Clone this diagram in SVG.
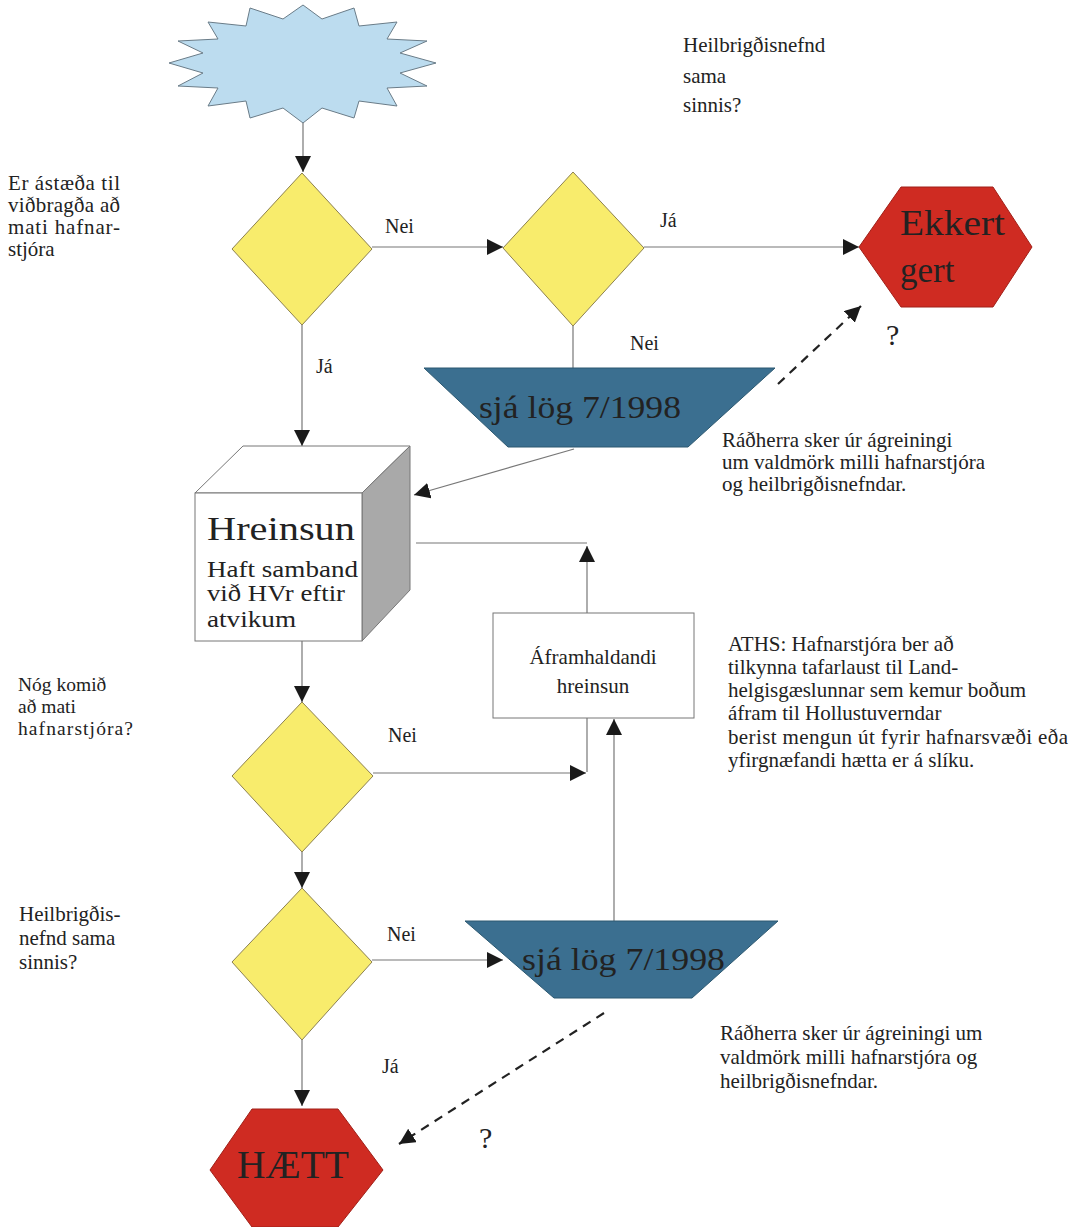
<svg xmlns="http://www.w3.org/2000/svg" width="1083" height="1227" viewBox="0 0 1083 1227">
<style>
text{font-family:"Liberation Serif","Times New Roman",serif;fill:#222}
.t{font-size:21px}
.lbl{font-size:20px}
.dia{fill:#f8ec6c;stroke:#8c8050;stroke-width:1}
.hex{fill:#cf2b22;stroke:#a02018;stroke-width:1}
.trap{fill:#3b6f90;stroke:#2c5870;stroke-width:1}
.con{fill:none;stroke:#777;stroke-width:1.2}
.dash{fill:none;stroke:#222;stroke-width:2.2;stroke-dasharray:9 7}
</style>
<defs>
<marker id="ah" markerUnits="userSpaceOnUse" markerWidth="18" markerHeight="18" refX="16" refY="8" orient="auto">
<path d="M0,0 L16,8 L0,16 z" fill="#1a1a1a"/>
</marker>
</defs>
<rect width="1083" height="1227" fill="#fff"/>

<g id="connectors">
<line class="con" x1="303" y1="123" x2="303" y2="172" marker-end="url(#ah)"/>
<line class="con" x1="372" y1="247" x2="503" y2="247" marker-end="url(#ah)"/>
<line class="con" x1="644" y1="247" x2="859" y2="247" marker-end="url(#ah)"/>
<line class="con" x1="573" y1="326" x2="573" y2="368"/>
<path class="dash" d="M778,384 L861,306" marker-end="url(#ah)"/>
<line class="con" x1="574" y1="449" x2="414" y2="495" marker-end="url(#ah)"/>
<line class="con" x1="302" y1="325" x2="302" y2="446" marker-end="url(#ah)"/>
<line class="con" x1="416" y1="543" x2="587" y2="543"/>
<line class="con" x1="587" y1="613" x2="587" y2="546" marker-end="url(#ah)"/>
<line class="con" x1="302" y1="641" x2="302" y2="702" marker-end="url(#ah)"/>
<line class="con" x1="373" y1="773" x2="586" y2="773" marker-end="url(#ah)"/>
<line class="con" x1="587" y1="718" x2="587" y2="772"/>
<line class="con" x1="614" y1="921" x2="614" y2="719" marker-end="url(#ah)"/>
<line class="con" x1="302" y1="852" x2="302" y2="888" marker-end="url(#ah)"/>
<line class="con" x1="372" y1="960" x2="503" y2="960" marker-end="url(#ah)"/>
<line class="con" x1="302" y1="1040" x2="302" y2="1106" marker-end="url(#ah)"/>
<path class="dash" d="M604,1013 L399,1144" marker-end="url(#ah)"/>
</g>

<g id="start">
<polygon points="303,5 322,19 354,8 359,26 397,22 387,39 427,41 400,53 436,63 400,73 427,86 387,88 397,106 359,101 354,118 322,108 303,123 283,108 250,118 246,101 208,106 218,88 178,86 203,73 169,63 203,53 178,41 218,39 208,22 246,26 250,8 283,19" fill="#bcdcef" stroke="#6a7c88" stroke-width="1"/>
</g>

<g id="q1-text">
<text class="t" x="8" y="190" textLength="112">Er ástæða til</text>
<text class="t" x="8" y="212" textLength="112">viðbragða að</text>
<text class="t" x="8" y="234" textLength="112">mati hafnar-</text>
<text class="t" x="8" y="256">stjóra</text>
</g>

<g id="d1"><polygon class="dia" points="302,173 372,249 302,325 232,249"/></g>
<g id="d2"><polygon class="dia" points="573,172 644,248 573,326 503,248"/></g>

<g id="q2-text">
<text class="t" x="683" y="52">Heilbrigðisnefnd</text>
<text class="t" x="683" y="83">sama</text>
<text class="t" x="683" y="112">sinnis?</text>
</g>

<g id="ekkert">
<polygon class="hex" points="901,187 993,187 1032,247 993,307 901,307 859,247"/>
<text x="900" y="235" font-size="35" textLength="105" lengthAdjust="spacingAndGlyphs">Ekkert</text>
<text x="900" y="282" font-size="35">gert</text>
</g>
<text x="886" y="345" font-size="30">?</text>

<g id="labels">
<text class="lbl" x="385" y="233">Nei</text>
<text class="lbl" x="660" y="227">Já</text>
<text class="lbl" x="630" y="350">Nei</text>
<text class="lbl" x="316" y="373">Já</text>
<text class="lbl" x="388" y="742">Nei</text>
<text class="lbl" x="387" y="941">Nei</text>
<text class="lbl" x="382" y="1073">Já</text>
</g>

<g id="law1">
<polygon class="trap" points="424,368 775,368 688,447 508,447"/>
<text x="479" y="418" font-size="31" textLength="202" lengthAdjust="spacingAndGlyphs">sjá lög 7/1998</text>
</g>

<g id="note1">
<text class="t" x="722" y="447">Ráðherra sker úr ágreiningi</text>
<text class="t" x="722" y="469">um valdmörk milli hafnarstjóra</text>
<text class="t" x="722" y="491">og heilbrigðisnefndar.</text>
</g>

<g id="cube">
<polygon points="195,493 243,446 410,446 362,493" fill="#fff" stroke="#777" stroke-width="1"/>
<polygon points="362,493 410,446 410,590 362,641" fill="#a9a9a9" stroke="#777" stroke-width="1"/>
<rect x="195" y="493" width="167" height="148" fill="#fff" stroke="#777" stroke-width="1"/>
<text x="207" y="540" font-size="33" textLength="148" lengthAdjust="spacingAndGlyphs">Hreinsun</text>
<text x="207" y="577" font-size="24" textLength="151" lengthAdjust="spacingAndGlyphs">Haft samband</text>
<text x="207" y="601" font-size="24" textLength="138" lengthAdjust="spacingAndGlyphs">við HVr eftir</text>
<text x="207" y="627" font-size="24" textLength="89" lengthAdjust="spacingAndGlyphs">atvikum</text>
</g>

<g id="continue">
<rect x="493" y="613" width="201" height="105" fill="#fff" stroke="#777" stroke-width="1"/>
<text class="t" x="593" y="664" text-anchor="middle">Áframhaldandi</text>
<text class="t" x="593" y="693" text-anchor="middle">hreinsun</text>
</g>

<g id="aths">
<text class="t" x="728" y="651">ATHS: Hafnarstjóra ber að</text>
<text class="t" x="728" y="674">tilkynna tafarlaust til Land-</text>
<text class="t" x="728" y="697">helgisgæslunnar sem kemur boðum</text>
<text class="t" x="728" y="720">áfram til Hollustuverndar</text>
<text class="t" x="728" y="744" textLength="340">berist mengun út fyrir hafnarsvæði eða</text>
<text class="t" x="728" y="767">yfirgnæfandi hætta er á slíku.</text>
</g>

<g id="q3-text">
<text x="18" y="691" font-size="19.5">Nóg komið</text>
<text x="18" y="713" font-size="19.5">að mati</text>
<text x="18" y="735" font-size="19.5" textLength="115">hafnarstjóra?</text>
</g>
<g id="d3"><polygon class="dia" points="302,702 373,776 302,852 232,776"/></g>

<g id="q4-text">
<text class="t" x="19" y="921">Heilbrigðis-</text>
<text class="t" x="19" y="945">nefnd sama</text>
<text class="t" x="19" y="969">sinnis?</text>
</g>
<g id="d4"><polygon class="dia" points="302,888 372,962 302,1040 232,962"/></g>

<g id="law2">
<polygon class="trap" points="465,921 778,921 692,998 554,998"/>
<text x="522" y="970" font-size="31" textLength="203" lengthAdjust="spacingAndGlyphs">sjá lög 7/1998</text>
</g>

<g id="note2">
<text class="t" x="720" y="1040">Ráðherra sker úr ágreiningi um</text>
<text class="t" x="720" y="1064">valdmörk milli hafnarstjóra og</text>
<text class="t" x="720" y="1088">heilbrigðisnefndar.</text>
</g>

<g id="haett">
<polygon class="hex" points="252,1109 338,1109 383,1170 338,1227 252,1227 210,1170"/>
<text x="237" y="1178" font-size="40" textLength="112" lengthAdjust="spacingAndGlyphs">HÆTT</text>
</g>
<text x="479" y="1148" font-size="30">?</text>
</svg>
